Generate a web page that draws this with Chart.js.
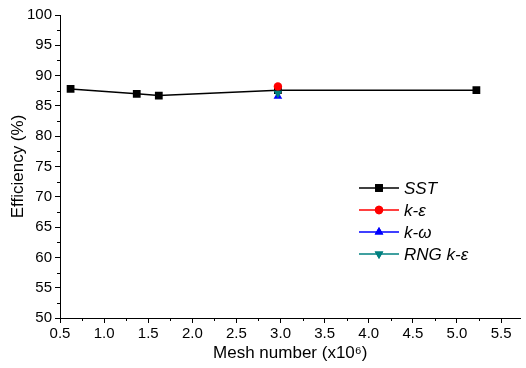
<!DOCTYPE html>
<html>
<head>
<meta charset="utf-8">
<script src="https://cdn.jsdelivr.net/npm/chart.js@4"></script>
<style>
  html, body { margin: 0; padding: 0; background: #fff; }
  #wrap { width: 526px; height: 368px; }
</style>
</head>
<body>
<div id="wrap"><canvas id="c"></canvas></div>
<script>
// Mesh independence data.
const sstX = [0.62, 1.37, 1.62, 2.97, 5.22];
const sstY = [87.8, 87.0, 86.7, 87.6, 87.6];
const keX = [2.97], keY = [88.2];
const kwX = [2.97], kwY = [86.6];
const rngX = [2.97], rngY = [87.1];

const X_MIN = 0.5, X_MAX = 5.72, X_STEP = 0.5;
const Y_MIN = 50, Y_MAX = 100, Y_STEP = 5;

const FONT = "'Liberation Sans', Arial, sans-serif";
const pts = (xs, ys) => xs.map((x, i) => ({ x, y: ys[i] }));

// Series styles: colour, marker, legend label (drawn italic).
const SERIES = [
  { label: "SST",     color: "#000000", style: "rect",     radius: 5.5, rot: 0,   data: pts(sstX, sstY), order: 4 },
  { label: "k-ε",     color: "#ff0000", style: "circle",   radius: 4.2, rot: 0,   data: pts(keX, keY),   order: 3 },
  { label: "k-ω",     color: "#0000ff", style: "triangle", radius: 5,   rot: 0,   data: pts(kwX, kwY),   order: 2 },
  { label: "RNG k-ε", color: "#008080", style: "triangle", radius: 5,   rot: 180, data: pts(rngX, rngY), order: 1 },
];

// Short minor ticks halfway between the labelled ones (Origin style).
const minorTicks = {
  id: "minorTicks",
  afterDraw(chart) {
    const { ctx, scales: { x, y } } = chart;
    ctx.save();
    ctx.strokeStyle = "#000"; ctx.lineWidth = 1;
    ctx.beginPath();
    for (let v = Y_MIN + Y_STEP / 2; v < Y_MAX; v += Y_STEP) {
      const py = Math.round(y.getPixelForValue(v)) + 0.5;
      ctx.moveTo(x.left - 3, py); ctx.lineTo(x.left, py);
    }
    for (let v = X_MIN + X_STEP / 2; v < X_MAX; v += X_STEP) {
      const px = Math.round(x.getPixelForValue(v)) + 0.5;
      ctx.moveTo(px, y.bottom); ctx.lineTo(px, y.bottom + 3);
    }
    ctx.stroke();
    ctx.restore();
  }
};

// Legend: line segment with marker, italic label, no frame.
const lineLegend = {
  id: "lineLegend",
  afterDraw(chart) {
    const { ctx } = chart;
    const x0 = 359, x1 = 399, tx = 404, top = 188, gap = 22;
    ctx.save();
    ctx.font = "italic 17px " + FONT;
    ctx.textBaseline = "middle";
    SERIES.forEach((s, i) => {
      const yy = top + i * gap;
      ctx.strokeStyle = s.color; ctx.lineWidth = 1.5;
      ctx.beginPath(); ctx.moveTo(x0, yy); ctx.lineTo(x1, yy); ctx.stroke();
      ctx.fillStyle = s.color;
      Chart.helpers.drawPoint(ctx, { pointStyle: s.style, radius: s.radius, rotation: s.rot, borderWidth: 0 }, (x0 + x1) / 2, yy);
      ctx.fill();
      ctx.fillStyle = "#000";
      ctx.fillText(s.label, tx, yy + 1);
    });
    ctx.restore();
  }
};

new Chart(document.getElementById("c"), {
  type: "line",
  data: {
    datasets: SERIES.map(s => ({
      label: s.label,
      data: s.data,
      order: s.order,
      borderColor: s.color,
      backgroundColor: s.color,
      borderWidth: 1.5,
      pointStyle: s.style,
      pointRadius: s.radius,
      pointRotation: s.rot,
      pointBorderWidth: 0,
      pointBackgroundColor: s.color,
      tension: 0, fill: false,
    }))
  },
  options: {
    responsive: true, maintainAspectRatio: false,
    animation: false,
    layout: { padding: { top: 15, right: 1, left: 0, bottom: 0 } },
    plugins: { legend: { display: false }, tooltip: { enabled: false } },
    scales: {
      x: {
        type: "linear", min: X_MIN, max: X_MAX,
        afterFit: s => { s.height = 50; },
        border: { color: "#000", width: 1 },
        grid: { drawOnChartArea: false, drawTicks: true, tickLength: 5, tickColor: "#000" },
        ticks: { stepSize: X_STEP, includeBounds: false, color: "#000", padding: 2,
                 maxRotation: 0, autoSkip: false,
                 font: { family: FONT, size: 15 }, callback: v => Number(v).toFixed(1) },
        title: { display: true, text: "Mesh number (x10⁶)", color: "#000",
                 font: { family: FONT, size: 17 }, padding: { top: 0, bottom: 4 } }
      },
      y: {
        min: Y_MIN, max: Y_MAX,
        afterFit: s => { s.width = 60; },
        border: { color: "#000", width: 1 },
        grid: { drawOnChartArea: false, drawTicks: true, tickLength: 5, tickColor: "#000" },
        ticks: { stepSize: Y_STEP, color: "#000", padding: 3,
                 font: { family: FONT, size: 15 } },
        title: { display: true, text: "Efficiency (%)", color: "#000",
                 font: { family: FONT, size: 17 }, padding: { top: 8, bottom: 0 } }
      }
    }
  },
  plugins: [minorTicks, lineLegend]
});
</script>
</body>
</html>
